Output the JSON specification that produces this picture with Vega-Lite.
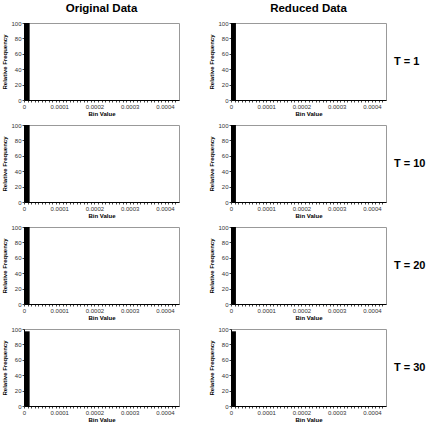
{
  "$schema": "https://vega.github.io/schema/vega-lite/v6.json",
  "padding": {"left": 1, "top": 2, "right": 0, "bottom": 0},
  "background": "white",
  "data": {"values": [
    {"T": "T = 1", "set": "Original Data", "bin_start": 0, "bin_end": 0.000016, "freq": 100},
    {"T": "T = 1", "set": "Reduced Data", "bin_start": 0, "bin_end": 0.000014, "freq": 100},
    {"T": "T = 10", "set": "Original Data", "bin_start": 0, "bin_end": 0.000016, "freq": 100},
    {"T": "T = 10", "set": "Reduced Data", "bin_start": 0, "bin_end": 0.000014, "freq": 100},
    {"T": "T = 20", "set": "Original Data", "bin_start": 0, "bin_end": 0.000016, "freq": 100},
    {"T": "T = 20", "set": "Reduced Data", "bin_start": 0, "bin_end": 0.000014, "freq": 100},
    {"T": "T = 30", "set": "Original Data", "bin_start": 0, "bin_end": 0.000016, "freq": 97},
    {"T": "T = 30", "set": "Reduced Data", "bin_start": 0, "bin_end": 0.000014, "freq": 97}
  ]},
  "facet": {
    "row": {"field": "T", "type": "nominal", "sort": ["T = 1", "T = 10", "T = 20", "T = 30"],
      "header": {"title": null, "labelOrient": "right", "labelAngle": 0,
        "labelFont": "Liberation Sans", "labelFontSize": 11, "labelFontWeight": "bold", "labelColor": "black", "labelPadding": 7}},
    "column": {"field": "set", "type": "nominal", "sort": ["Original Data", "Reduced Data"],
      "header": {"title": null, "labelOrient": "top", "labelFont": "Liberation Sans", "labelFontSize": 11.5, "labelFontWeight": "bold", "labelColor": "black", "labelPadding": 5}}
  },
  "spacing": {"row": 4, "column": 28},
  "resolve": {"axis": {"x": "independent", "y": "independent"}},
  "spec": {
    "width": 155,
    "height": 77,
    "view": {"stroke": "#999999", "strokeWidth": 1},
    "mark": {"type": "bar", "color": "black"},
    "encoding": {
      "x": {"field": "bin_start", "type": "quantitative",
        "scale": {"domain": [0, 0.00044], "nice": false, "zero": true},
        "axis": {
          "title": "Bin Value",
          "values": [0, 0.00001, 0.00002, 0.00003, 0.00004, 0.00005, 0.00006, 0.00007, 0.00008, 0.00009, 0.0001, 0.00011, 0.00012, 0.00013, 0.00014, 0.00015, 0.00016, 0.00017, 0.00018, 0.00019, 0.0002, 0.00021, 0.00022, 0.00023, 0.00024, 0.00025, 0.00026, 0.00027, 0.00028, 0.00029, 0.0003, 0.00031, 0.00032, 0.00033, 0.00034, 0.00035, 0.00036, 0.00037, 0.00038, 0.00039, 0.0004, 0.00041, 0.00042, 0.00043],
          "labelExpr": "abs(datum.value*10000 - round(datum.value*10000)) < 0.000001 ? (datum.value == 0 ? '0' : format(datum.value, '.4f')) : ''",
          "labelFont": "Liberation Sans", "labelFontSize": 6, "labelColor": "#333333", "labelPadding": 1, "labelOverlap": false, "labelFlush": false,
          "tickSize": 2, "tickColor": "#444444", "domainColor": "black",
          "titleFont": "Liberation Sans", "titleFontSize": 6, "titleFontWeight": "bold", "titleColor": "black", "titlePadding": 1,
          "grid": false
        }},
      "x2": {"field": "bin_end"},
      "y": {"field": "freq", "type": "quantitative",
        "scale": {"domain": [0, 100], "nice": false},
        "axis": {
          "title": "Relative Frequency",
          "values": [0, 20, 40, 60, 80, 100],
          "labelFont": "Liberation Sans", "labelFontSize": 6, "labelColor": "#333333", "labelPadding": 1,
          "tickSize": 2, "tickColor": "#444444", "domainColor": "black",
          "titleFont": "Liberation Sans", "titleFontSize": 6, "titleFontWeight": "bold", "titleColor": "black", "titlePadding": 3,
          "grid": false
        }},
      "y2": {"datum": 0}
    }
  }
}
